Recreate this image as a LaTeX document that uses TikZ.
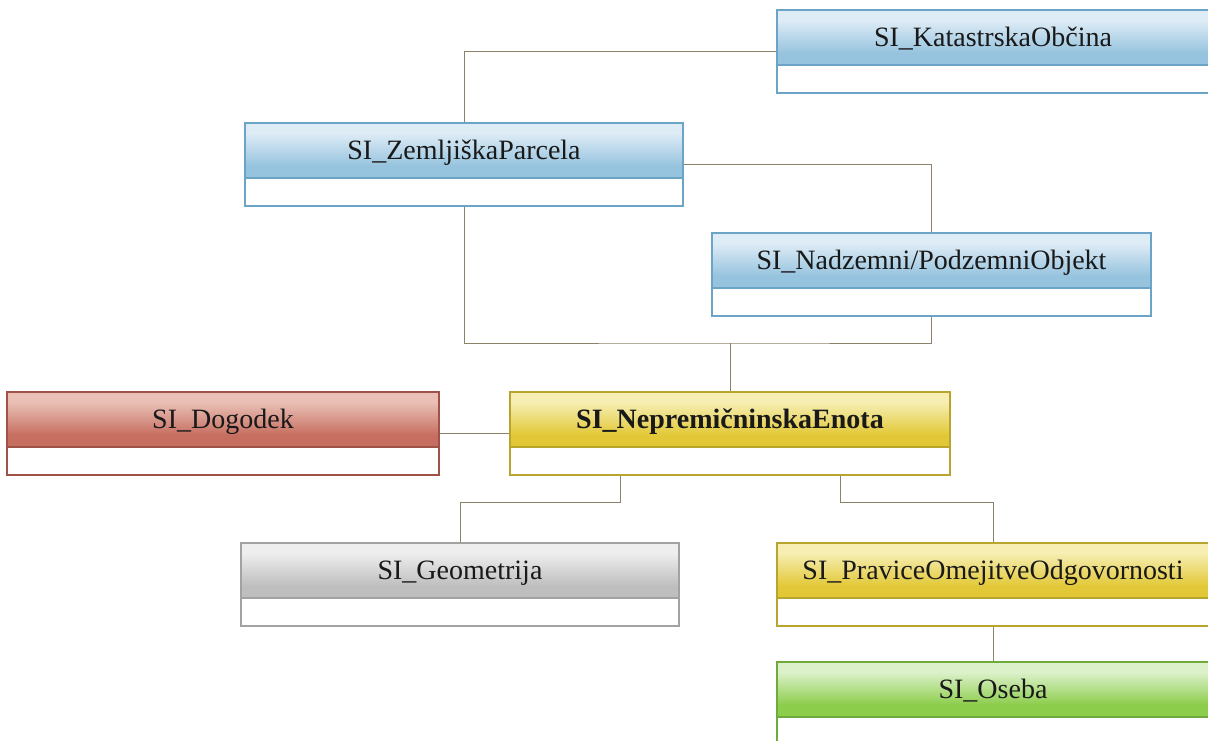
\documentclass[tikz,border=0pt]{standalone}
\usepackage{fontspec}
\setmainfont{Liberation Serif}
\usepackage{xcolor}
\usepackage{tikz}
\usetikzlibrary{positioning,calc}
\definecolor{bluetop}{RGB}{222,236,246}
\definecolor{bluedark}{RGB}{150,195,222}
\definecolor{bluebot}{RGB}{182,213,233}
\definecolor{blueline}{RGB}{108,164,200}
\definecolor{redtop}{RGB}{234,192,182}
\definecolor{reddark}{RGB}{198,110,96}
\definecolor{redbot}{RGB}{220,160,148}
\definecolor{redline}{RGB}{160,82,72}
\definecolor{yeltop}{RGB}{246,238,178}
\definecolor{yeldark}{RGB}{226,200,55}
\definecolor{yelbot}{RGB}{238,220,120}
\definecolor{yelline}{RGB}{185,165,45}
\definecolor{greytop}{RGB}{238,238,238}
\definecolor{greydark}{RGB}{190,190,190}
\definecolor{greybot}{RGB}{214,214,214}
\definecolor{greyline}{RGB}{162,162,162}
\definecolor{greentop}{RGB}{220,241,202}
\definecolor{greendark}{RGB}{140,205,75}
\definecolor{greenbot}{RGB}{178,224,132}
\definecolor{greenline}{RGB}{110,170,60}
\definecolor{linkcol}{RGB}{140,130,105}
\colorlet{hdtop}{white}\colorlet{hddark}{gray}\colorlet{hdbot}{gray}
\pgfdeclareverticalshading[hdtop,hddark,hdbot]{header}{100bp}{color(0bp)=(hdbot); color(28bp)=(hdbot); color(31bp)=(hddark); color(49bp)=(hddark); color(69bp)=(hdtop); color(100bp)=(hdtop)}

\begin{document}
\begin{tikzpicture}[x=1pt,y=-1pt,
  cls/.style={draw=#1line,fill=white,line width=1.3pt,minimum width=438pt,minimum height=83pt,
    inner sep=0pt,text height=6pt,text depth=17pt,text=black!90,font=\fontsize{28}{30}\selectfont,
    path picture={
      \colorlet{hdtop}{#1top}\colorlet{hddark}{#1dark}\colorlet{hdbot}{#1bot}
      \shade[shading=header] (path picture bounding box.north west) rectangle ([yshift=-55pt]path picture bounding box.north east);
      \draw[#1line,line width=1.3pt] ([yshift=-55pt]path picture bounding box.north west) -- ([yshift=-55pt]path picture bounding box.north east);
    }},
  link/.style={draw=linkcol,line width=0.9pt}]
\useasboundingbox (0,0) rectangle (1208,740);
\clip (0,0) rectangle (1208,740);
% classes
\node[cls=blue,minimum width=432pt] (kat) at (993,51.5) {SI\_KatastrskaObčina};
\node[cls=blue] (zem) at (464,164.5) {SI\_ZemljiškaParcela};
\node[cls=blue,minimum width=439pt] (nad) at (931.5,274.5) {SI\_Nadzemni/PodzemniObjekt};
\node[cls=red,minimum width=432pt] (dog) at (223,433.5) {SI\_Dogodek};
\node[cls=yel,minimum width=440pt,font=\fontsize{28}{30}\selectfont\bfseries] (nep) at (730,433.5) {SI\_NepremičninskaEnota};
\node[cls=grey] (geo) at (460,584.5) {SI\_Geometrija};
\node[cls=yel,minimum width=432pt] (pra) at (993,584.5) {SI\_PraviceOmejitveOdgovornosti};
\node[cls=green,minimum width=432pt] (ose) at (993,703.5) {SI\_Oseba};
% links
\coordinate (bus) at (730,343);
\draw[link] (kat.west) -| (zem.north);
\draw[link] (zem.east) -| (nad.north);
\draw[link] (zem.south) |- (bus) -| (nad.south);
\draw[link] (bus) -- (nep.north);
\draw[link] (dog.east) -- (nep.west);
\draw[link] ([xshift=-110pt]nep.south) -- ++(0,27) -| (geo.north);
\draw[link] ([xshift=110pt]nep.south) -- ++(0,27) -| (pra.north);
\draw[link] (pra.south) -- (ose.north);
\end{tikzpicture}
\end{document}
